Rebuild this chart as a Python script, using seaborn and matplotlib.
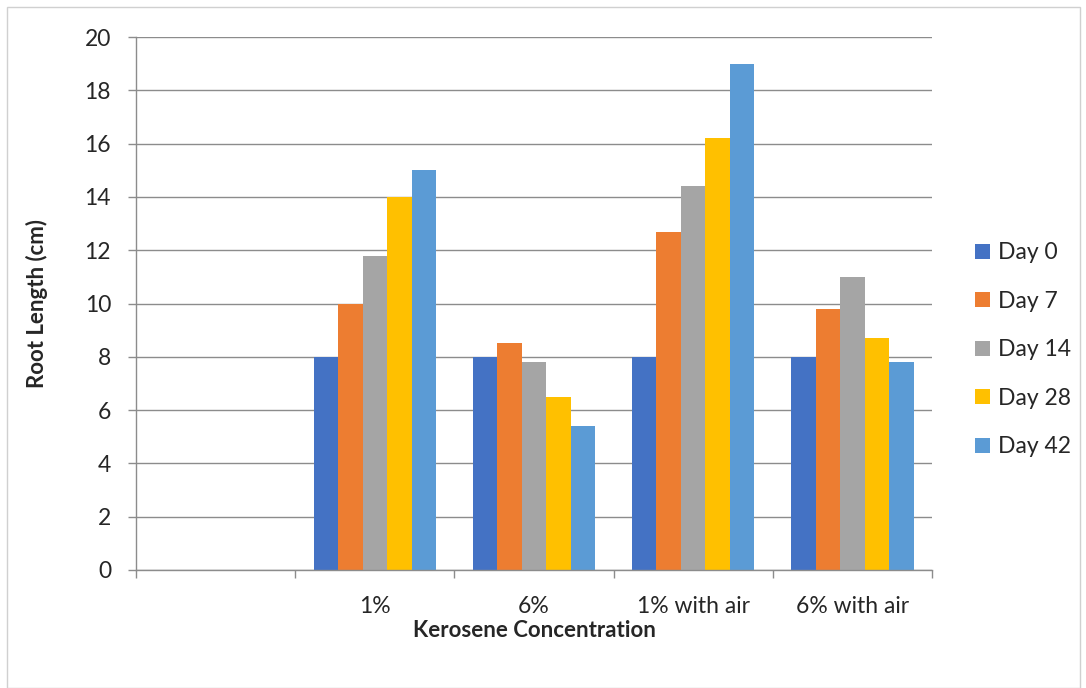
import matplotlib
matplotlib.use("Agg")
import matplotlib.pyplot as plt
import seaborn as sns
import pandas as pd
import numpy as np
from matplotlib.patches import Rectangle

categories = ["", "1%", "6%", "1% with air", "6% with air"]
series = ["Day 0", "Day 7", "Day 14", "Day 28", "Day 42"]
day0 = [np.nan, 8, 8, 8, 8]
day7 = [np.nan, 10, 8.5, 12.7, 9.8]
day14 = [np.nan, 11.8, 7.8, 14.4, 11]
day28 = [np.nan, 14, 6.5, 16.2, 8.7]
day42 = [np.nan, 15, 5.4, 19, 7.8]
colors = ["#4472C4", "#ED7D31", "#A5A5A5", "#FFC000", "#5B9BD5"]

rows = []
for s, vals in zip(series, [day0, day7, day14, day28, day42]):
    for c, v in zip(categories, vals):
        rows.append({"cat": c, "series": s, "val": v})
df = pd.DataFrame(rows)

sns.set_theme(style="white")
plt.rcParams['font.family'] = ['Lato', 'DejaVu Sans']

fig = plt.figure(figsize=(10.86, 6.88), dpi=100)
ax = fig.add_axes([136/1086, 1-570/688, (932-136)/1086, (570-37)/688])

sns.barplot(data=df, x="cat", y="val", hue="series", order=categories,
            hue_order=series, palette=colors, width=0.77, gap=0,
            linewidth=0, saturation=1, ax=ax, legend=True)

ax.set_ylim(0, 20)
ax.set_xlim(-0.5, len(categories) - 0.5)
ax.set_yticks(np.arange(0, 21, 2))
ax.yaxis.grid(True, color="#8c8c8c", linewidth=1)
ax.set_axisbelow(True)
for sp in ["top", "right"]:
    ax.spines[sp].set_visible(False)
for sp in ["left", "bottom"]:
    ax.spines[sp].set_color("#8c8c8c")
    ax.spines[sp].set_linewidth(1)

ax.tick_params(axis="y", which="major", length=6, width=1, color="#8c8c8c",
               labelsize=16.5, pad=12, left=True)
ax.set_xticks(range(len(categories)))
ax.set_xticklabels(categories)
ax.tick_params(axis="x", which="major", length=0, labelsize=16.5, pad=19)
ax.set_xticks(np.arange(-0.5, len(categories), 1), minor=True)
ax.tick_params(axis="x", which="minor", length=6, width=1, color="#8c8c8c", bottom=True)

ax.set_ylabel("Root Length (cm)", fontsize=16, fontweight="bold", labelpad=26)
ax.set_xlabel("Kerosene Concentration", fontsize=16, fontweight="bold", labelpad=2)

handles, labels = ax.get_legend_handles_labels()
ax.legend(handles, labels, loc="center left", bbox_to_anchor=(1.054, 0.413),
          frameon=False, fontsize=16.5, handlelength=0.65, handleheight=0.65,
          labelspacing=1.2, handletextpad=0.35, borderaxespad=0, borderpad=0)

fig.patches.append(Rectangle((7/1086, 0), 1073/1086, 1-7/688, transform=fig.transFigure,
                             fill=False, edgecolor="#d0d0d0", linewidth=1))

fig.savefig("out.png", dpi=100)
